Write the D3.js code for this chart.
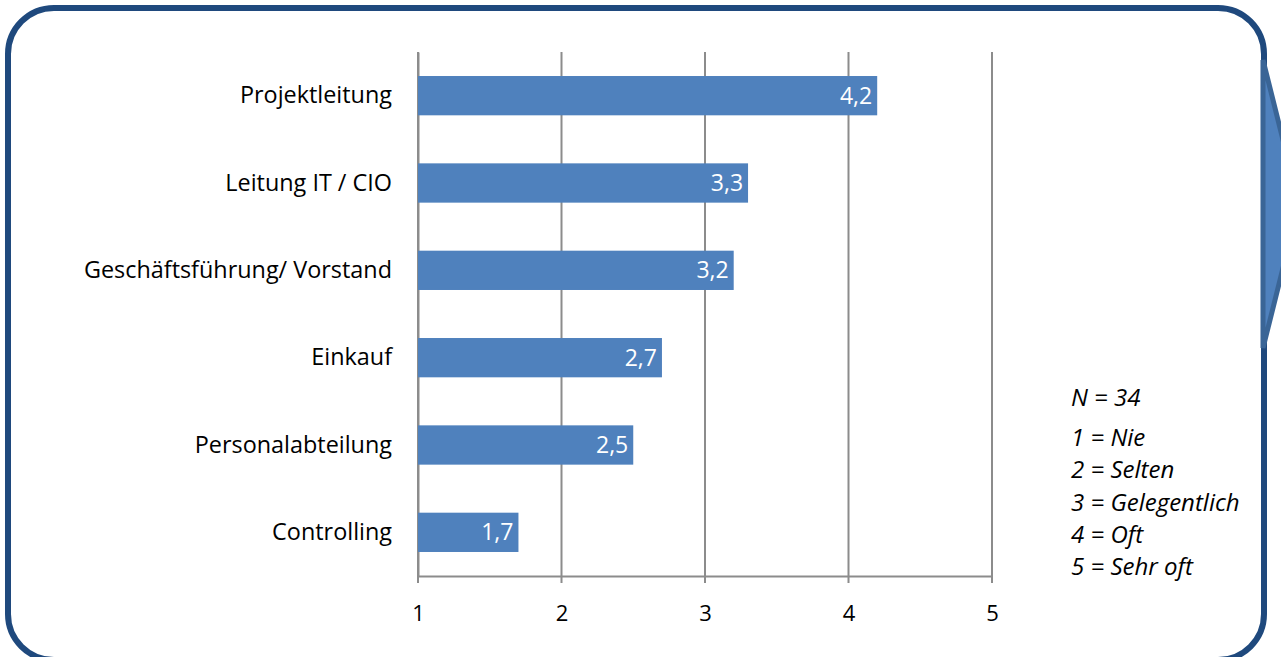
<!DOCTYPE html>
<html>
<head>
<meta charset="utf-8">
<script src="https://cdn.jsdelivr.net/npm/d3@7"></script>
<style>
  html, body { margin: 0; padding: 0; background: #fff; }
  svg { display: block; }
</style>
</head>
<body>
<svg id="chart" width="1281" height="657"></svg>
<script>
// Rollen im Projekt und durchschnittliche Einbindung (Skala 1–5)
const categories = ["Projektleitung", "Leitung IT / CIO", "Geschäftsführung/ Vorstand", "Einkauf", "Personalabteilung", "Controlling"];
const values = [4.2, 3.3, 3.2, 2.7, 2.5, 1.7];
const xTicks = [1, 2, 3, 4, 5];
const legendLines = ["1 = Nie", "2 = Selten", "3 = Gelegentlich", "4 = Oft", "5 = Sehr oft"];
const sampleNote = "N = 34";

const svg = d3.select("#chart");
const font = "'Open Sans', sans-serif";

// Rahmen mit abgerundeten Ecken
svg.append("rect")
  .attr("x", 8).attr("y", 8)
  .attr("width", 1256).attr("height", 652)
  .attr("rx", 46).attr("ry", 46)
  .attr("fill", "#fff")
  .attr("stroke", "#1f497d")
  .attr("stroke-width", 6);

// Pfeilform am rechten Rand
svg.append("path")
  .attr("d", "M1263,60 L1299,204 L1263,348 Z")
  .attr("fill", "#4f81bd")
  .attr("stroke", "#3a6596")
  .attr("stroke-width", 5)
  .attr("stroke-linejoin", "miter");

const plot = { left: 418, right: 992, top: 52, bottom: 576 };

const x = d3.scaleLinear().domain([1, 5]).range([plot.left, plot.right]);
const y = d3.scaleBand().domain(categories).range([plot.top, plot.bottom]).paddingInner(0.55).paddingOuter(0.275);

const g = svg.append("g");

// Gitterlinien
g.selectAll("line.grid")
  .data(xTicks)
  .join("line")
  .attr("class", "grid")
  .attr("x1", d => x(d)).attr("x2", d => x(d))
  .attr("y1", plot.top).attr("y2", plot.bottom + 7)
  .attr("stroke", "#8c8c8c")
  .attr("stroke-width", 2);

// X-Achse
const xAxis = d3.axisBottom(x).tickValues(xTicks).tickSize(0).tickFormat(d3.format("d"));
const ax = g.append("g")
  .attr("transform", `translate(0,${plot.bottom})`)
  .call(xAxis);
ax.select(".domain").attr("stroke", "#8c8c8c").attr("stroke-width", 2);
ax.selectAll("text")
  .attr("dy", 0)
  .attr("y", 45)
  .attr("fill", "#000")
  .style("font-family", font)
  .style("font-size", "22px");

// Y-Achse (Kategorien)
const yAxis = d3.axisLeft(y).tickSize(0).tickPadding(26);
const ay = g.append("g")
  .attr("transform", `translate(${plot.left},0)`)
  .call(yAxis);
ay.select(".domain").attr("stroke", "#8c8c8c").attr("stroke-width", 2);
ay.selectAll("text")
  .attr("fill", "#000")
  .style("font-family", font)
  .style("font-size", "23.4px");

// Balken
g.selectAll("rect.bar")
  .data(values)
  .join("rect")
  .attr("class", "bar")
  .attr("x", x(1))
  .attr("y", (d, i) => y(categories[i]))
  .attr("width", d => x(d) - x(1))
  .attr("height", y.bandwidth())
  .attr("fill", "#4f81bd");

// Werte in den Balken
const fmt = d => d.toFixed(1).replace(".", ",");
g.selectAll("text.val")
  .data(values)
  .join("text")
  .attr("class", "val")
  .attr("x", d => x(d) - 5)
  .attr("y", (d, i) => y(categories[i]) + y.bandwidth() / 2)
  .attr("dy", "0.35em")
  .attr("text-anchor", "end")
  .attr("fill", "#fff")
  .style("font-family", font)
  .style("font-size", "23px")
  .text(fmt);

// Legende
const leg = svg.append("g")
  .style("font-family", font)
  .style("font-size", "24px")
  .style("font-style", "italic");
leg.append("text").attr("x", 1071).attr("y", 406).text(sampleNote);
leg.selectAll("text.l")
  .data(legendLines)
  .join("text")
  .attr("class", "l")
  .attr("x", 1071)
  .attr("y", (d, i) => 446 + i * 32.3)
  .text(d => d);
</script>
</body>
</html>
